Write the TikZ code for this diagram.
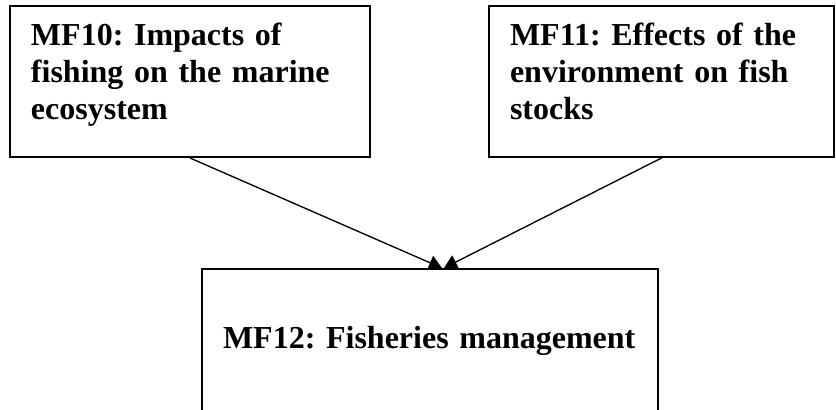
\documentclass[tikz,border=0pt]{standalone}
\usepackage{fontspec}
\setmainfont{Liberation Serif}
\usetikzlibrary{arrows.meta,calc,backgrounds}
\frenchspacing
\hyphenpenalty=10000
\exhyphenpenalty=10000
\tikzset{
  >={Triangle[length=9.75pt,width=11.25pt]},
  mfbox/.style={draw=black, fill=white, line width=1.5pt, anchor=north west,
    align=left, font=\fontsize{24pt}{27.6pt}\selectfont\bfseries,
    inner xsep=15.75pt, inner ysep=0pt, text width=#1},
  mfbox/.default=238.5pt,
  lien/.style={->, line width=1pt, draw=black},
}

\begin{document}
\begin{tikzpicture}[x=0.75pt,y=-0.75pt]
  \useasboundingbox (0,0) rectangle (836,410);
  \clip (0,0) rectangle (836,410);
  % Top row : the two research areas
  \node[mfbox=238.5pt, text height=30pt, text depth=83.25pt] (mf10) at (9,5)
    {MF10: Impacts of fishing on the marine ecosystem};
  \node[mfbox=227.25pt, text height=30pt, text depth=83.25pt] (mf11) at (488,5)
    {MF11: Effects of the environment on fish stocks};
  % Bottom : management box (runs past the lower edge)
  \node[mfbox=310.5pt, text height=59.25pt, text depth=75pt] (mf12) at (201,268)
    {MF12: Fisheries management};
  % Arrows
  \begin{scope}[on background layer]
    \draw[lien] (mf10.south) -- ($(mf12.north)+(12,0)$);
    \draw[lien] (mf11.south) -- ($(mf12.north)+(14,0)$);
  \end{scope}
\end{tikzpicture}
\end{document}
